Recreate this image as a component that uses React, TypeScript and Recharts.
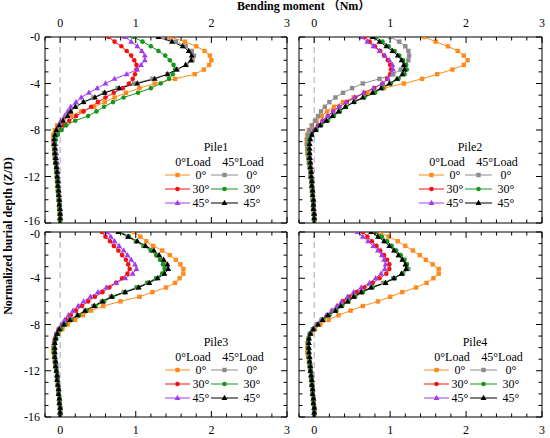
import React from 'react';
import { LineChart, Line, XAxis, YAxis, ReferenceLine } from 'recharts';

// ---------- data ----------
const DEPTH = [0, -0.4, -0.8, -1.2, -1.6, -2, -2.4, -2.8, -3.2, -3.6, -4, -4.4, -4.8, -5.2, -5.6, -6, -6.4, -6.8, -7.2, -7.6, -8, -8.4, -8.8, -9.2, -9.6, -10, -10.4, -10.8, -11.2, -11.6, -12, -12.4, -12.8, -13.2, -13.6, -14, -14.4, -14.8, -15.2, -15.6, -16];

const X_TICKS = [-0.2, 0, 0.2, 0.4, 0.6, 0.8, 1, 1.2, 1.4, 1.6, 1.8, 2, 2.2, 2.4, 2.6, 2.8, 3];
const X_MAJOR = [0, 1, 2, 3];
const X_LABELS = ['0', '1', '2', '3'];
const Y_TICKS = [0, -1, -2, -3, -4, -5, -6, -7, -8, -9, -10, -11, -12, -13, -14, -15, -16];
const Y_MAJOR = [0, -4, -8, -12, -16];
const Y_LABELS = ['-0', '-4', '-8', '-12', '-16'];

const PILE_NAMES = ['Pile1', 'Pile2', 'Pile3', 'Pile4'];
const LOAD_NAMES = ['0°Load', '45°Load'];
const ANGLE_NAMES = ['0°', '30°', '45°'];
const X_TITLE = 'Bending moment （Nm）';
const Y_TITLE = 'Normalized burial depth (Z/D)';

// Pile1
const P1_A0 = [1.45, 1.65, 1.80, 1.91, 1.98, 2.00, 1.97, 1.90, 1.78, 1.52, 1.25, 1.05, 0.87, 0.72, 0.59, 0.45, 0.28, 0.14, 0.03, -0.04, -0.07, -0.09, -0.09, -0.09, -0.08, -0.08, -0.07, -0.06, -0.05, -0.05, -0.04, -0.04, -0.03, -0.03, -0.02, -0.02, -0.01, -0.01, -0.01, 0, 0];
const P1_A30 = [0.64, 0.72, 0.81, 0.88, 0.94, 0.98, 1.01, 1.01, 0.99, 0.96, 0.91, 0.83, 0.71, 0.60, 0.50, 0.41, 0.31, 0.21, 0.12, 0.04, -0.02, -0.05, -0.07, -0.07, -0.07, -0.06, -0.06, -0.05, -0.05, -0.04, -0.04, -0.03, -0.03, -0.02, -0.02, -0.01, -0.01, -0.01, 0, 0, 0];
const P1_A45 = [0.86, 0.94, 1.02, 1.08, 1.12, 1.12, 1.07, 1.02, 0.88, 0.72, 0.60, 0.49, 0.38, 0.28, 0.21, 0.14, 0.10, 0.06, 0.01, -0.02, -0.04, -0.05, -0.06, -0.06, -0.06, -0.05, -0.05, -0.04, -0.04, -0.03, -0.03, -0.02, -0.02, -0.02, -0.01, -0.01, -0.01, 0, 0, 0, 0];
const P1_B0 = [1.36, 1.53, 1.66, 1.74, 1.77, 1.75, 1.67, 1.55, 1.42, 1.22, 0.98, 0.76, 0.58, 0.44, 0.31, 0.21, 0.14, 0.09, 0.04, 0.00, -0.04, -0.07, -0.08, -0.08, -0.08, -0.07, -0.07, -0.06, -0.05, -0.05, -0.04, -0.03, -0.03, -0.02, -0.02, -0.01, -0.01, -0.01, 0, 0, 0];
const P1_B30 = [0.97, 1.09, 1.20, 1.30, 1.39, 1.45, 1.50, 1.52, 1.49, 1.44, 1.33, 1.20, 1.03, 0.84, 0.70, 0.58, 0.48, 0.37, 0.20, 0.08, 0.02, -0.03, -0.06, -0.07, -0.07, -0.07, -0.06, -0.06, -0.05, -0.05, -0.04, -0.04, -0.03, -0.03, -0.02, -0.02, -0.01, -0.01, 0, 0, 0];
const P1_B45 = [1.30, 1.48, 1.62, 1.70, 1.74, 1.73, 1.66, 1.54, 1.42, 1.25, 1.02, 0.78, 0.59, 0.46, 0.31, 0.20, 0.14, 0.10, 0.04, -0.01, -0.05, -0.07, -0.08, -0.08, -0.07, -0.07, -0.06, -0.06, -0.05, -0.04, -0.04, -0.03, -0.03, -0.02, -0.02, -0.01, -0.01, 0, 0, 0, 0];

// Pile2
const P2_A0 = [1.45, 1.60, 1.76, 1.89, 1.97, 2.02, 1.97, 1.82, 1.62, 1.42, 1.18, 0.92, 0.70, 0.52, 0.38, 0.26, 0.17, 0.10, 0.03, -0.03, -0.07, -0.09, -0.10, -0.10, -0.09, -0.09, -0.08, -0.07, -0.06, -0.05, -0.05, -0.04, -0.03, -0.03, -0.02, -0.02, -0.01, -0.01, -0.01, 0, 0];
const P2_A30 = [0.66, 0.73, 0.80, 0.87, 0.92, 0.97, 1.00, 1.01, 1.00, 0.96, 0.90, 0.79, 0.66, 0.54, 0.43, 0.33, 0.25, 0.18, 0.11, 0.05, 0.00, -0.04, -0.06, -0.07, -0.07, -0.06, -0.06, -0.05, -0.05, -0.04, -0.04, -0.03, -0.03, -0.02, -0.02, -0.01, -0.01, -0.01, 0, 0, 0];
const P2_A45 = [0.62, 0.70, 0.78, 0.86, 0.93, 0.99, 1.03, 1.04, 1.02, 0.97, 0.90, 0.78, 0.65, 0.53, 0.42, 0.33, 0.25, 0.18, 0.11, 0.05, 0.00, -0.04, -0.06, -0.06, -0.06, -0.06, -0.05, -0.05, -0.04, -0.04, -0.03, -0.03, -0.03, -0.02, -0.02, -0.01, -0.01, 0, 0, 0, 0];
const P2_B0 = [1.00, 1.12, 1.20, 1.24, 1.25, 1.24, 1.20, 1.14, 1.04, 0.86, 0.64, 0.50, 0.38, 0.28, 0.20, 0.14, 0.09, 0.05, 0.01, -0.03, -0.06, -0.08, -0.09, -0.09, -0.09, -0.08, -0.08, -0.07, -0.06, -0.05, -0.05, -0.04, -0.03, -0.03, -0.02, -0.02, -0.01, -0.01, 0, 0, 0];
const P2_B30 = [0.81, 0.90, 0.98, 1.06, 1.12, 1.17, 1.21, 1.22, 1.19, 1.11, 1.01, 0.90, 0.80, 0.66, 0.53, 0.42, 0.34, 0.26, 0.18, 0.09, 0.03, -0.03, -0.06, -0.07, -0.07, -0.07, -0.06, -0.06, -0.05, -0.04, -0.04, -0.03, -0.03, -0.02, -0.02, -0.01, -0.01, -0.01, 0, 0, 0];
const P2_B45 = [0.77, 0.86, 0.95, 1.03, 1.10, 1.15, 1.18, 1.19, 1.16, 1.09, 0.99, 0.88, 0.77, 0.64, 0.52, 0.41, 0.32, 0.24, 0.16, 0.08, 0.02, -0.03, -0.05, -0.06, -0.06, -0.06, -0.06, -0.05, -0.05, -0.04, -0.04, -0.03, -0.03, -0.02, -0.02, -0.01, -0.01, -0.01, 0, 0, 0];

// Pile3
const P3_A0 = [0.98, 1.06, 1.14, 1.23, 1.35, 1.45, 1.53, 1.59, 1.63, 1.63, 1.58, 1.52, 1.40, 1.22, 1.05, 0.80, 0.57, 0.41, 0.30, 0.20, 0.10, 0.03, -0.02, -0.06, -0.08, -0.09, -0.09, -0.08, -0.07, -0.06, -0.05, -0.04, -0.04, -0.03, -0.02, -0.02, -0.01, -0.01, 0, 0, 0];
const P3_A30 = [0.55, 0.60, 0.66, 0.71, 0.77, 0.82, 0.87, 0.90, 0.92, 0.89, 0.82, 0.74, 0.65, 0.56, 0.46, 0.37, 0.29, 0.21, 0.14, 0.08, 0.03, -0.02, -0.05, -0.07, -0.08, -0.08, -0.08, -0.07, -0.06, -0.06, -0.05, -0.04, -0.04, -0.03, -0.02, -0.02, -0.01, -0.01, 0, 0, 0];
const P3_A45 = [0.62, 0.67, 0.72, 0.78, 0.84, 0.89, 0.94, 0.99, 1.01, 0.96, 0.86, 0.74, 0.61, 0.50, 0.40, 0.31, 0.24, 0.17, 0.11, 0.06, 0.02, -0.02, -0.05, -0.07, -0.08, -0.08, -0.07, -0.07, -0.06, -0.05, -0.05, -0.04, -0.03, -0.03, -0.02, -0.02, -0.01, -0.01, 0, 0, 0];
const P3_B0 = [0.78, 0.89, 1.00, 1.10, 1.20, 1.28, 1.34, 1.39, 1.40, 1.36, 1.27, 1.15, 1.01, 0.84, 0.67, 0.55, 0.44, 0.33, 0.23, 0.13, 0.05, 0.00, -0.03, -0.06, -0.07, -0.08, -0.07, -0.07, -0.06, -0.05, -0.05, -0.04, -0.03, -0.03, -0.02, -0.02, -0.01, -0.01, 0, 0, 0];
const P3_B30 = [0.80, 0.91, 1.01, 1.11, 1.20, 1.27, 1.32, 1.36, 1.38, 1.35, 1.27, 1.16, 1.02, 0.86, 0.70, 0.58, 0.47, 0.35, 0.25, 0.15, 0.07, 0.01, -0.03, -0.05, -0.07, -0.08, -0.08, -0.07, -0.07, -0.06, -0.05, -0.04, -0.04, -0.03, -0.02, -0.02, -0.01, -0.01, 0, 0, 0];
const P3_B45 = [0.77, 0.90, 1.02, 1.13, 1.24, 1.31, 1.37, 1.42, 1.43, 1.38, 1.29, 1.18, 1.04, 0.86, 0.68, 0.56, 0.45, 0.33, 0.23, 0.13, 0.05, -0.01, -0.04, -0.06, -0.07, -0.07, -0.07, -0.07, -0.06, -0.06, -0.05, -0.04, -0.04, -0.03, -0.02, -0.02, -0.01, -0.01, 0, 0, 0];

// Pile4
const P4_A0 = [0.86, 0.98, 1.10, 1.20, 1.30, 1.39, 1.47, 1.56, 1.64, 1.64, 1.57, 1.48, 1.34, 1.16, 1.00, 0.84, 0.64, 0.48, 0.32, 0.19, 0.08, 0.01, -0.04, -0.07, -0.09, -0.09, -0.09, -0.08, -0.07, -0.06, -0.05, -0.04, -0.04, -0.03, -0.02, -0.02, -0.01, -0.01, 0, 0, 0];
const P4_A30 = [0.64, 0.70, 0.76, 0.82, 0.87, 0.92, 0.96, 0.99, 0.99, 0.95, 0.86, 0.77, 0.66, 0.56, 0.46, 0.38, 0.31, 0.24, 0.17, 0.10, 0.04, -0.01, -0.05, -0.07, -0.08, -0.08, -0.07, -0.07, -0.06, -0.05, -0.05, -0.04, -0.03, -0.03, -0.02, -0.02, -0.01, -0.01, 0, 0, 0];
const P4_A45 = [0.57, 0.64, 0.71, 0.78, 0.84, 0.89, 0.92, 0.94, 0.93, 0.88, 0.81, 0.73, 0.62, 0.52, 0.44, 0.36, 0.30, 0.23, 0.16, 0.09, 0.03, -0.02, -0.05, -0.07, -0.07, -0.07, -0.07, -0.06, -0.06, -0.05, -0.04, -0.04, -0.03, -0.03, -0.02, -0.02, -0.01, -0.01, 0, 0, 0];
const P4_B0 = [0.79, 0.87, 0.94, 1.00, 1.06, 1.12, 1.18, 1.22, 1.24, 1.17, 1.04, 0.91, 0.75, 0.62, 0.52, 0.44, 0.35, 0.27, 0.18, 0.10, 0.04, -0.02, -0.06, -0.07, -0.08, -0.08, -0.07, -0.07, -0.06, -0.05, -0.05, -0.04, -0.03, -0.03, -0.02, -0.02, -0.01, -0.01, 0, 0, 0];
const P4_B30 = [0.82, 0.89, 0.96, 1.02, 1.08, 1.14, 1.19, 1.22, 1.22, 1.16, 1.06, 0.94, 0.77, 0.64, 0.54, 0.45, 0.37, 0.29, 0.20, 0.12, 0.05, -0.01, -0.05, -0.07, -0.08, -0.08, -0.07, -0.07, -0.06, -0.06, -0.05, -0.04, -0.04, -0.03, -0.02, -0.02, -0.01, -0.01, 0, 0, 0];
const P4_B45 = [0.75, 0.84, 0.92, 0.99, 1.05, 1.11, 1.16, 1.20, 1.21, 1.15, 1.05, 0.94, 0.75, 0.62, 0.52, 0.44, 0.35, 0.28, 0.18, 0.11, 0.05, -0.01, -0.05, -0.07, -0.07, -0.07, -0.07, -0.06, -0.06, -0.05, -0.05, -0.04, -0.03, -0.03, -0.02, -0.02, -0.01, -0.01, 0, 0, 0];

// ---------- styles ----------
const FONT = "'Liberation Serif', 'Times New Roman', 'Noto Sans CJK SC', serif";
const SERIES = [
  { key: 'a0', color: '#FF8A1E', shape: 'square' },
  { key: 'a30', color: '#F21010', shape: 'circle' },
  { key: 'a45', color: '#A23CF0', shape: 'triangle' },
  { key: 'b0', color: '#8C8C8C', shape: 'square' },
  { key: 'b30', color: '#17951A', shape: 'circle' },
  { key: 'b45', color: '#000000', shape: 'triangle' },
];

const buildRows = (s: number[][]) =>
  DEPTH.map((d, i) => ({ depth: d, a0: s[0][i], a30: s[1][i], a45: s[2][i], b0: s[3][i], b30: s[4][i], b45: s[5][i] }));

const PANEL_DATA = [
  buildRows([P1_A0, P1_A30, P1_A45, P1_B0, P1_B30, P1_B45]),
  buildRows([P2_A0, P2_A30, P2_A45, P2_B0, P2_B30, P2_B45]),
  buildRows([P3_A0, P3_A30, P3_A45, P3_B0, P3_B30, P3_B45]),
  buildRows([P4_A0, P4_A30, P4_A45, P4_B0, P4_B30, P4_B45]),
];

// layout: chart box (left, top, width, height); axis sizes fixed
const AX_L = 45, AX_R = 8, AX_T = 30;
const PANELS = [
  { left: 0, top: 7, width: 295, height: 238, axB: 22, topLabels: true, bottomLabels: false, leftLabels: true, legDx: 0, labDy: -1 },
  { left: 254, top: 7, width: 296, height: 238, axB: 22, topLabels: true, bottomLabels: false, leftLabels: false, legDx: 0, labDy: -1 },
  { left: 0, top: 202, width: 295, height: 236, axB: 21, topLabels: false, bottomLabels: true, leftLabels: true, legDx: 0, labDy: 1 },
  { left: 254, top: 202, width: 296, height: 236, axB: 21, topLabels: false, bottomLabels: true, leftLabels: false, legDx: 5, labDy: 1 },
];

const isMajorX = (v: number) => X_MAJOR.some((m) => Math.abs(m - v) < 1e-6);
const labelX = (v: number) => X_LABELS[X_MAJOR.findIndex((m) => Math.abs(m - v) < 1e-6)];
const isMajorY = (v: number) => Y_MAJOR.some((m) => Math.abs(m - v) < 1e-6);
const labelY = (v: number) => Y_LABELS[Y_MAJOR.findIndex((m) => Math.abs(m - v) < 1e-6)];

const MAJ = 6, MIN = 3.5;
const txtStyle = { fontFamily: FONT, fontSize: 12, fill: '#000' } as const;

const makeXTick = (side: 'top' | 'bottom', showLabel: boolean) => (props: any) => {
  const { x, y, payload } = props;
  const v = payload.value;
  const major = isMajorX(v);
  const len = major ? MAJ : MIN;
  const dir = side === 'top' ? 1 : -1;
  return (
    <g>
      <line x1={x} y1={y} x2={x} y2={y + dir * len} stroke="#000" strokeWidth={1} />
      {showLabel && major ? (
        <text x={x} y={side === 'top' ? y - 10 : y + 17} textAnchor="middle" style={txtStyle}>
          {labelX(v)}
        </text>
      ) : null}
    </g>
  );
};

const makeYTick = (side: 'left' | 'right', showLabel: boolean, edgeDy: number) => (props: any) => {
  const { x, y, payload } = props;
  const v = payload.value;
  const major = isMajorY(v);
  const len = major ? MAJ : MIN;
  const dir = side === 'left' ? 1 : -1;
  const dy = edgeDy < 0 && v === -16 ? -2 : edgeDy > 0 && v === 0 ? 2 : 0;
  return (
    <g>
      <line x1={x} y1={y} x2={x + dir * len} y2={y} stroke="#000" strokeWidth={1} />
      {showLabel && major ? (
        <text x={x - 5} y={y + 4 + dy} textAnchor="end" style={txtStyle}>
          {labelY(v)}
        </text>
      ) : null}
    </g>
  );
};

const Marker = ({ shape, color, cx, cy }: { shape: string; color: string; cx: number; cy: number }) => {
  if (shape === 'square') return <rect x={cx - 2.2} y={cy - 2.2} width={4.4} height={4.4} fill={color} />;
  if (shape === 'circle') return <circle cx={cx} cy={cy} r={2.3} fill={color} />;
  return <path d={`M${cx},${cy - 3.2} L${cx + 2.9},${cy + 2} L${cx - 2.9},${cy + 2} Z`} fill={color} />;
};

const makeDot = (shape: string, color: string) => (props: any) => {
  const { cx, cy, index } = props;
  const k = `dot-${index}`;
  if (cx == null || cy == null) return <g key={k} />;
  return (
    <g key={k}>
      <Marker shape={shape} color={color} cx={cx} cy={cy} />
    </g>
  );
};

const Panel = ({ idx }: { idx: number }) => {
  const p = PANELS[idx];
  return (
    <div style={{ position: 'absolute', left: p.left, top: p.top, width: p.width, height: p.height }}>
      <LineChart
        width={p.width}
        height={p.height}
        data={PANEL_DATA[idx]}
        layout="vertical"
        margin={{ top: 0, right: 0, bottom: 0, left: 0 }}
      >
        <XAxis
          xAxisId="t"
          orientation="top"
          type="number"
          domain={[-0.2, 3]}
          ticks={X_TICKS}
          interval={0}
          allowDataOverflow
          height={AX_T}
          tickSize={0}
          tickMargin={0}
          tickLine={false}
          axisLine={{ stroke: '#000', strokeWidth: 1 }}
          tick={makeXTick('top', p.topLabels)}
        />
        <XAxis
          xAxisId="b"
          orientation="bottom"
          type="number"
          domain={[-0.2, 3]}
          ticks={X_TICKS}
          interval={0}
          allowDataOverflow
          height={p.axB}
          tickSize={0}
          tickMargin={0}
          tickLine={false}
          axisLine={{ stroke: '#000', strokeWidth: 1 }}
          tick={makeXTick('bottom', p.bottomLabels)}
        />
        <YAxis
          yAxisId="l"
          orientation="left"
          type="number"
          dataKey="depth"
          domain={[-16, 0]}
          reversed
          ticks={Y_TICKS}
          interval={0}
          allowDataOverflow
          width={AX_L}
          tickSize={0}
          tickMargin={0}
          tickLine={false}
          axisLine={{ stroke: '#000', strokeWidth: 1 }}
          tick={makeYTick('left', p.leftLabels, p.labDy)}
        />
        <YAxis
          yAxisId="r"
          orientation="right"
          type="number"
          dataKey="depth"
          domain={[-16, 0]}
          reversed
          ticks={Y_TICKS}
          interval={0}
          allowDataOverflow
          width={AX_R}
          tickSize={0}
          tickMargin={0}
          tickLine={false}
          axisLine={{ stroke: '#000', strokeWidth: 1 }}
          tick={makeYTick('right', false, 0)}
        />
        <ReferenceLine x={0} xAxisId="t" yAxisId="l" stroke="#A8A8A8" strokeDasharray="6 4" strokeWidth={1} />
        {SERIES.map((s) => (
          <Line
            key={s.key}
            xAxisId="t"
            yAxisId="l"
            type="linear"
            dataKey={s.key}
            stroke={s.color}
            strokeWidth={1}
            dot={makeDot(s.shape, s.color)}
            activeDot={false}
            isAnimationActive={false}
          />
        ))}
      </LineChart>
    </div>
  );
};

const LegendBlock = ({ idx }: { idx: number }) => {
  const p = PANELS[idx];
  const pl = p.left + AX_L + p.legDx;
  const pt = p.top + AX_T;
  const rows = [138, 152, 166];
  return (
    <g>
      <text x={pl + 171} y={pt + 114} textAnchor="middle" style={txtStyle}>{PILE_NAMES[idx]}</text>
      <text x={pl + 148} y={pt + 129} textAnchor="middle" style={txtStyle}>{LOAD_NAMES[0]}</text>
      <text x={pl + 198} y={pt + 129} textAnchor="middle" style={txtStyle}>{LOAD_NAMES[1]}</text>
      {rows.map((ry, r) => {
        const a = SERIES[r];
        const b = SERIES[r + 3];
        const y = pt + ry;
        return (
          <g key={r}>
            <line x1={pl + 120} y1={y} x2={pl + 145} y2={y} stroke={a.color} strokeWidth={1} />
            <Marker shape={a.shape} color={a.color} cx={pl + 132.5} cy={y} />
            <text x={pl + 156} y={y + 4} textAnchor="middle" style={txtStyle}>{ANGLE_NAMES[r]}</text>
            <line x1={pl + 166} y1={y} x2={pl + 193} y2={y} stroke={b.color} strokeWidth={1} />
            <Marker shape={b.shape} color={b.color} cx={pl + 179.5} cy={y} />
            <text x={pl + 207} y={y + 4} textAnchor="middle" style={txtStyle}>{ANGLE_NAMES[r]}</text>
          </g>
        );
      })}
    </g>
  );
};

export default function App() {
  return (
    <div style={{ position: 'absolute', left: 0, top: 0, width: 550, height: 438, background: '#fff', overflow: 'hidden' }}>
      {PANELS.map((_, i) => (
        <Panel key={i} idx={i} />
      ))}
      <svg width={550} height={438} style={{ position: 'absolute', left: 0, top: 0, pointerEvents: 'none' }}>
        <text x={237} y={10} style={{ ...txtStyle, fontWeight: 'bold' }}>{X_TITLE}</text>
        <text
          x={0}
          y={0}
          transform="translate(12,236) rotate(-90)"
          textAnchor="middle"
          style={{ ...txtStyle, fontWeight: 'bold' }}
        >
          {Y_TITLE}
        </text>
        {PANELS.map((_, i) => (
          <LegendBlock key={i} idx={i} />
        ))}
      </svg>
    </div>
  );
}
